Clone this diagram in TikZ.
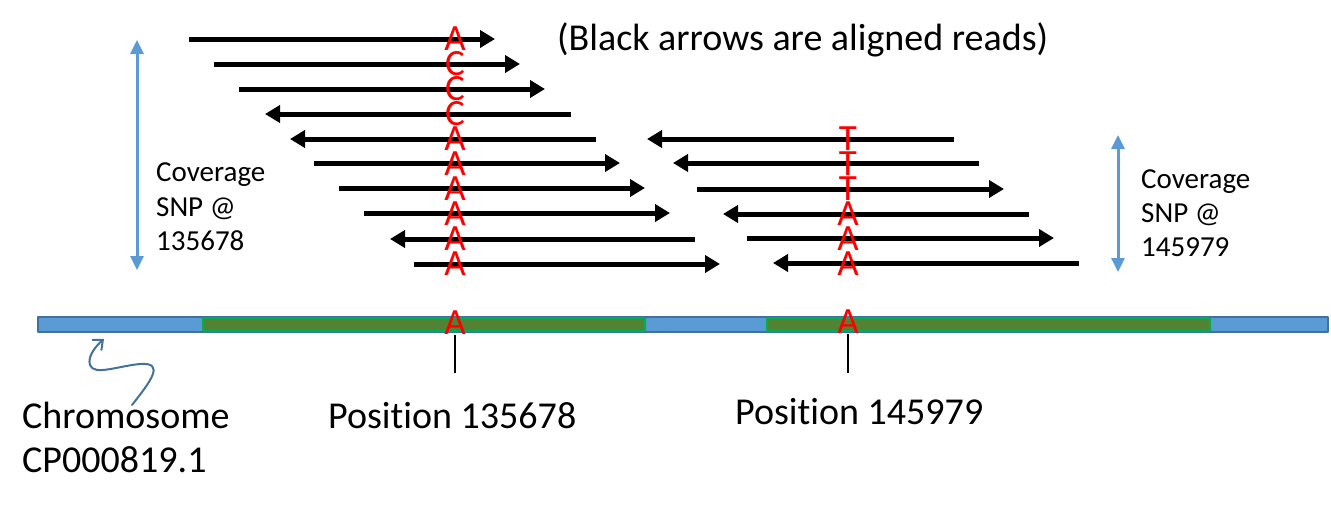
\documentclass[tikz,border=0pt]{standalone}
\usepackage{fontspec}
\setmainfont{Carlito}[Ligatures=NoCommon]
\usepackage{xcolor}
\usetikzlibrary{arrows.meta}
\definecolor{chrblue}{HTML}{5B9BD5}
\definecolor{chredge}{HTML}{41719C}
\definecolor{regfill}{HTML}{548235}
\definecolor{regedge}{HTML}{00B050}

\begin{document}
\begin{tikzpicture}[line join=round,x=1pt,y=-1pt,
    read/.style={line width=5pt,-{Triangle[length=15pt,width=17pt]}},
    base/.style={text=red,font=\fontsize{37}{37}\selectfont,inner sep=0pt},
    cover/.style={color=chrblue,line width=3pt,{Triangle[length=14pt,width=13pt]}-{Triangle[length=14pt,width=13pt]}},
    lbl/.style={font=\fontsize{38}{44}\selectfont,anchor=base west,inner sep=0pt},
    small/.style={font=\fontsize{29}{35}\selectfont,anchor=base west,inner sep=0pt}]
    \useasboundingbox (0,0) rectangle (1331,506);
    % reads over SNP 135678
    \draw [read] (189,39) -- (495,39);
    \draw [read] (214,64) -- (520,64);
    \draw [read] (239,89) -- (545,89);
    \draw [read] (571,114) -- (265,114);
    \draw [read] (596,139) -- (290,139);
    \draw [read] (314,163) -- (620,163);
    \draw [read] (339,188) -- (645,188);
    \draw [read] (364,213) -- (670,213);
    \draw [read] (695,239) -- (390,239);
    \draw [read] (414,264) -- (720,264);
    % reads over SNP 145979
    \draw [read] (954,139) -- (647,139);
    \draw [read] (979,163) -- (673,163);
    \draw [read] (697,189) -- (1004,189);
    \draw [read] (1029,214) -- (723,214);
    \draw [read] (747,238) -- (1054,238);
    \draw [read] (1079,263) -- (773,263);
    % called bases
    \node [base] (la1) at (455,39) {A};
    \node [base] (la2) at (455,64) {C};
    \node [base] (la3) at (455,89) {C};
    \node [base] (la4) at (455,114) {C};
    \node [base] (la5) at (455,139) {A};
    \node [base] (la6) at (455,164) {A};
    \node [base] (la7) at (455,189) {A};
    \node [base] (la8) at (455,214) {A};
    \node [base] (la9) at (455,239) {A};
    \node [base] (la10) at (455,264) {A};
    \node [base] (rb1) at (848,139) {T};
    \node [base] (rb2) at (848,164) {T};
    \node [base] (rb3) at (848,189) {T};
    \node [base] (rb4) at (848,214) {A};
    \node [base] (rb5) at (848,239) {A};
    \node [base] (rb6) at (848,264) {A};
    % chromosome
    \draw [chredge,line width=2pt,fill=chrblue] (38,317) rectangle (1328,332);
    \draw [regedge,line width=2pt,fill=regfill,rounded corners=1pt] (203,318) rectangle (645,331);
    \draw [regedge,line width=2pt,fill=regfill,rounded corners=1pt] (767,318) rectangle (1210,331);
    \node [base] (snpa) at (455,323) {A};
    \node [base] (snpb) at (848,322) {A};
    \draw [line width=2pt] (snpa.south) -- ++(0,38);
    \draw [line width=2pt] (snpb.south) -- ++(0,39);
    \draw [chredge,line width=2pt,line cap=round,-{Straight Barb[length=8pt,width=14pt]}] (132,405) .. controls (150,382) and (166,362) .. (140,364) .. controls (118,366) and (94,376) .. (90,365) .. controls (87,356) and (97,345) .. (104,339);
    % coverage
    \draw [cover] (137,40) -- (137,270);
    \draw [cover] (1118,135) -- (1118,272);
    \node [small] (covl1) at (156,181) {Coverage};
    \node [small] (covl2) at (156,216) {SNP @};
    \node [small] (covl3) at (156,250) {135678};
    \node [small] (covr1) at (1141,188) {Coverage};
    \node [small] (covr2) at (1141,222) {SNP @};
    \node [small] (covr3) at (1141,256) {145979};
    % labels
    \node [lbl] (note) at (557,50) {(Black arrows are aligned reads)};
    \node [lbl] (chr1) at (22,428) {Chromosome};
    \node [lbl] (chr2) at (22,472) {CP000819.1};
    \node [lbl] (posa) at (328,428) {Position 135678};
    \node [lbl] (posb) at (735,424) {Position 145979};
\end{tikzpicture}
\end{document}
